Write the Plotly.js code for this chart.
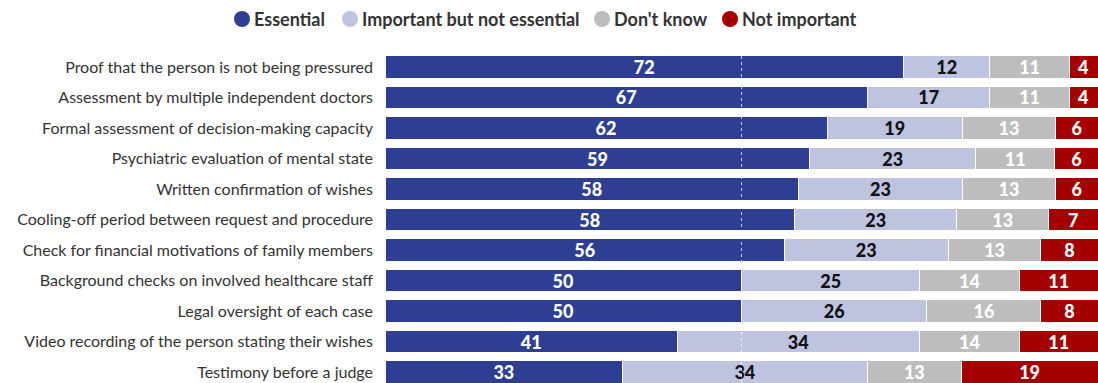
<!DOCTYPE html>
<html>
<head>
<meta charset="utf-8">
<script src="https://cdn.plot.ly/plotly-3.0.1.min.js"></script>
<style>html,body{margin:0;padding:0;background:#fff;}#chart{width:1098px;height:383px;}</style>
</head>
<body>
<div id="chart"></div>
<script>
const categories = [
  "Proof that the person is not being pressured",
  "Assessment by multiple independent doctors",
  "Formal assessment of decision-making capacity",
  "Psychiatric evaluation of mental state",
  "Written confirmation of wishes",
  "Cooling-off period between request and procedure",
  "Check for financial motivations of family members",
  "Background checks on involved healthcare staff",
  "Legal oversight of each case",
  "Video recording of the person stating their wishes",
  "Testimony before a judge"
];
const essential    = [72, 67, 62, 59, 58, 58, 56, 50, 50, 41, 33];
const important    = [12, 17, 19, 23, 23, 23, 23, 25, 26, 34, 34];
const dontKnow     = [11, 11, 13, 11, 13, 13, 13, 14, 16, 14, 13];
const notImportant = [4, 4, 6, 6, 6, 7, 8, 11, 8, 11, 19];

const seriesNames = ["Essential", "Important but not essential", "Don't know", "Not important"];
const seriesColors = ["#2E3F93", "#BEC3E0", "#BDBDBD", "#A50000"];
const textColors = ["#ffffff", "#111111", "#ffffff", "#ffffff"];
const series = [essential, important, dontKnow, notImportant];

const totals = categories.map((c, i) => series.reduce((s, arr) => s + arr[i], 0));

const FONT = "Lato, 'Open Sans', sans-serif";
const W = 1098, H = 383, ML = 385, MT = 50;
const plotW = W - ML, plotH = H - MT;
const px2paperX = px => (px - ML) / plotW;
const px2paperY = py => (H - py) / plotH;

const traces = [];
series.forEach((arr, k) => {
  traces.push({
    type: "bar",
    orientation: "h",
    y: categories,
    x: arr.map((v, i) => v / totals[i] * 100),
    text: arr.map(String),
    textposition: "inside",
    insidetextanchor: "middle",
    textangle: 0,
    constraintext: "none",
    textfont: {family: FONT, size: 18, color: textColors[k], weight: 900},
    marker: {color: seriesColors[k], line: {color: "#ffffff", width: 1}},
    name: seriesNames[k],
    showlegend: false,
    hoverinfo: "skip"
  });
});

// manual legend (circle + label), positions in pixels
const legendCircleX = [242, 350, 602, 730];
const legendY = 19;
const annotations = [];
const shapes = [];
seriesNames.forEach((name, k) => {
  shapes.push({
    type: "circle", xref: "paper", yref: "paper",
    xsizemode: "pixel", ysizemode: "pixel",
    xanchor: px2paperX(legendCircleX[k]), yanchor: px2paperY(legendY),
    x0: -8, x1: 8, y0: -8, y1: 8,
    fillcolor: seriesColors[k], line: {width: 0}
  });
  annotations.push({
    xref: "paper", yref: "paper",
    x: px2paperX(legendCircleX[k] + 10), y: px2paperY(legendY),
    xanchor: "left", yanchor: "middle",
    text: name, showarrow: false,
    font: {family: FONT, size: 18, color: "#333333", weight: 700}
  });
});
shapes.push({
  type: "line", xref: "x", yref: "paper",
  x0: 50, x1: 50, y0: 0, y1: 1,
  line: {color: "rgba(255,255,255,0.75)", width: 1, dash: "dot"},
  layer: "above"
});

const layout = {
  width: W, height: H,
  margin: {l: ML, r: 0, t: MT, b: 0},
  paper_bgcolor: "#ffffff", plot_bgcolor: "#ffffff",
  barmode: "stack",
  bargap: 0.25,
  font: {family: FONT, color: "#333333"},
  showlegend: false,
  xaxis: {range: [0, 100], showgrid: false, zeroline: false, showticklabels: false, ticks: "", fixedrange: true},
  yaxis: {
    type: "category",
    range: [10.36, -0.557],
    showgrid: false, zeroline: false, ticks: "",
    ticklabelstandoff: 11,
    tickfont: {family: FONT, size: 16, color: "#333333"}
  },
  shapes: shapes,
  annotations: annotations
};

Plotly.newPlot("chart", traces, layout, {staticPlot: true, displayModeBar: false});
</script>
</body>
</html>
